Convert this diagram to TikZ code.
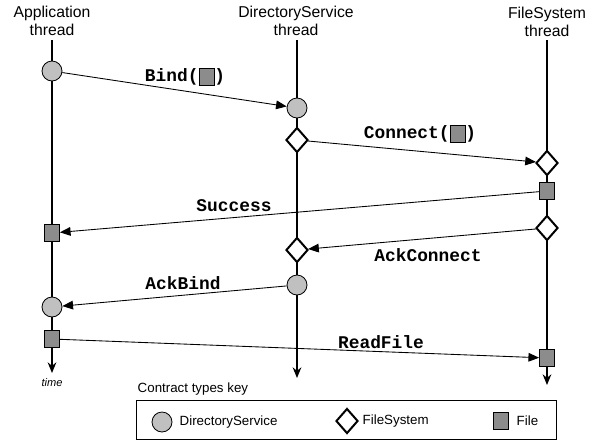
\documentclass[tikz,border=0pt]{standalone}
\usepackage{fontspec}
\setmainfont{Liberation Sans}
\newfontfamily\codefont{Liberation Mono}
\usetikzlibrary{shapes.geometric,arrows.meta}

\definecolor{dsgray}{RGB}{192,192,192}
\definecolor{filegray}{RGB}{140,140,140}

\newcommand\filemark{\raisebox{-2.6pt}{\setlength\fboxsep{0pt}\setlength\fboxrule{0.5pt}\fcolorbox{black}{filegray}{\rule{0pt}{12.6pt}\hspace{10.8pt}}}}

\tikzset{
  dscircle/.style={circle, draw, fill=dsgray, inner sep=0pt, minimum size=15pt, line width=0.6pt},
  fsdiamond/.style={diamond, draw, fill=white, inner sep=0pt, minimum width=16.5pt, minimum height=18.75pt, line width=1.5pt},
  filebox/.style={rectangle, draw, fill=filegray, inner sep=0pt, minimum width=11.25pt, minimum height=12.75pt, line width=0.6pt},
  lifeline/.style={line width=1.1pt, -{Stealth[length=8pt,width=6.5pt]}},
  msg/.style={line width=0.65pt, -{Triangle[length=8pt,width=6.5pt]}},
  msglabel/.style={font=\codefont\bfseries\fontsize{13.4}{14}\selectfont},
  header/.style={align=center, font=\fontsize{11.8}{13.5}\selectfont},
  keytext/.style={anchor=west, font=\fontsize{10}{12}\selectfont},
}

\begin{document}
\begin{tikzpicture}[x=0.75pt, y=-0.75pt]
\useasboundingbox (0,0) rectangle (599,443);

% Thread headers
\node[header] (apphead) at (52,21) {Application\\thread};
\node[header] (dshead) at (296,21) {DirectoryService\\thread};
\node[header] (fshead) at (547,22) {FileSystem\\thread};

% Lifelines
\coordinate (apptop) at (52,40);
\coordinate (append) at (52,373);
\coordinate (dstop) at (297,40);
\coordinate (dsend) at (297,378);
\coordinate (fstop) at (547,40);
\coordinate (fsend) at (547,385);
\draw[lifeline] (apptop) -- (append);
\draw[lifeline] (dstop) -- (dsend);
\draw[lifeline] (fstop) -- (fsend);
\node[font=\itshape\fontsize{8.3}{10}\selectfont] (time) at (52,383) {time};

% Application thread
\node[dscircle] (a1) at (52,71) {};
\node[filebox] (a2) at (52,233) {};
\node[dscircle] (a3) at (52,307) {};
\node[filebox] (a4) at (52,339) {};

% DirectoryService thread
\node[dscircle] (d1) at (297,108) {};
\node[fsdiamond] (d2) at (297,140) {};
\node[fsdiamond] (d3) at (297,250) {};
\node[dscircle] (d4) at (297,285) {};

% FileSystem thread
\node[fsdiamond] (f1) at (547,163) {};
\node[filebox] (f2) at (547,191) {};
\node[fsdiamond] (f3) at (547,228) {};
\node[filebox] (f4) at (547,358) {};

% Messages
\draw[msg] (a1) -- (d1);
\draw[msg] (d2) -- (f1);
\draw[msg] (f2) -- (a2);
\draw[msg] (f3) -- (d3);
\draw[msg] (d4) -- (a3);
\draw[msg] (a4) -- (f4);
\node[msglabel] (bind) at (185,77) {Bind(\filemark)};
\node[msglabel] (connect) at (420,134) {Connect(\filemark)};
\node[msglabel] (success) at (234,206) {Success};
\node[msglabel] (ackconnect) at (428,255) {AckConnect};
\node[msglabel] (ackbind) at (183,283) {AckBind};
\node[msglabel] (readfile) at (381,342) {ReadFile};

% Key
\node[keytext] (keytitle) at (133,389) {Contract types key};
\node[draw, line width=0.7pt, minimum width=315pt, minimum height=29pt, inner sep=0pt] (keybox) at (346,420) {};
\node[dscircle] (kcircle) at (162,422) {};
\node[keytext] (kds) at (175,422) {DirectoryService};
\node[fsdiamond] (kdiamond) at (347,421) {};
\node[keytext] (kfs) at (358,421) {FileSystem};
\node[filebox] (kfile) at (501,421) {};
\node[keytext] (kf) at (512,421) {File};

\end{tikzpicture}
\end{document}
